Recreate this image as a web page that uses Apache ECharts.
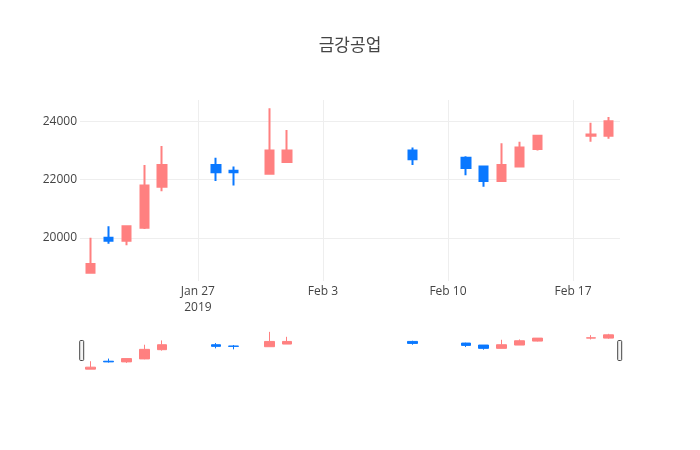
<!DOCTYPE html>
<html>
<head>
<meta charset="utf-8">
<script src="https://cdn.jsdelivr.net/npm/echarts@6/dist/echarts.min.js"></script>
<style>html,body{margin:0;padding:0;background:#fff;}#chart{width:700px;height:450px;}</style>
</head>
<body>
<div id="chart"></div>
<script>
const titleText = '금강공업';
const dates = ['2019-01-21','2019-01-22','2019-01-23','2019-01-24','2019-01-25','2019-01-28','2019-01-29','2019-01-31','2019-02-01','2019-02-08','2019-02-11','2019-02-12','2019-02-13','2019-02-14','2019-02-15','2019-02-18','2019-02-19'];
const openV  = [18800,20000,19900,20350,21750,22500,22300,22200,22600,23000,22750,22450,21950,22450,23050,23500,23500];
const closeV = [19100,19900,20400,21800,22500,22250,22250,23000,23000,22700,22400,21950,22500,23100,23500,23550,24000];
const lowV   = [18800,19800,19750,20300,21600,21950,21800,22200,22600,22500,22150,21750,21950,22450,23000,23300,23400];
const highV  = [20000,20400,20400,22500,23150,22750,22450,24450,23700,23100,22800,22450,23250,23300,23500,23950,24150];
const xTickDates = ['2019-01-27','2019-02-03','2019-02-10','2019-02-17'];
const yTicks = [20000,22000,24000];

const MONTHS = ['Jan','Feb','Mar','Apr','May','Jun','Jul','Aug','Sep','Oct','Nov','Dec'];
const DAY = 86400000;
const ref = Date.UTC(2019,0,27);
function dayOf(s){ const p=s.split('-'); return Math.round((Date.UTC(+p[0],+p[1]-1,+p[2])-ref)/DAY); }
const xTicks = xTickDates.map(dayOf);
const data = dates.map((d,i)=>[dayOf(d), openV[i], closeV[i], lowV[i], highV[i]]);
const xMin = -6.6, xMax = 23.63, yMin = 18520, yMax = 24730;
const UP = '#ff8080', DOWN = '#0a78ff';
function fmtX(v){
  const dt = new Date(ref + Math.round(v)*DAY);
  const s = MONTHS[dt.getUTCMonth()] + ' ' + dt.getUTCDate();
  return Math.round(v) === xTicks[0] ? s + '\n' + dt.getUTCFullYear() : s;
}
const font = '"Open Sans", "Noto Sans", sans-serif';
const chart = echarts.init(document.getElementById('chart'), null, {renderer:'canvas'});
chart.setOption({
  animation:false,
  backgroundColor:'#fff',
  title:{text:titleText,left:'center',top:31,textStyle:{fontFamily:'"Noto Sans CJK KR", sans-serif',fontSize:17,fontWeight:'normal',color:'#444'}},
  grid:[
    {left:80,right:80,top:100,height:181},
    {left:80,right:80,top:330,height:41}
  ],
  xAxis:[
    {type:'value',gridIndex:0,min:xMin,max:xMax,
     axisLine:{show:false},
     axisTick:{show:false,customValues:xTicks},
     splitLine:{show:true,lineStyle:{color:'#eeeeee',width:1}},
     axisLabel:{customValues:xTicks,formatter:fmtX,margin:3,color:'#444',fontSize:12,fontFamily:font,lineHeight:16}},
    {type:'value',gridIndex:1,min:xMin,max:xMax,show:false,splitLine:{show:false}}
  ],
  yAxis:[
    {type:'value',gridIndex:0,min:yMin,max:yMax,
     axisLine:{show:false},
     axisTick:{show:false,customValues:yTicks},
     splitLine:{show:true,lineStyle:{color:'#eeeeee',width:1}},
     axisLabel:{customValues:yTicks,formatter:v=>String(v),margin:3,color:'#444',fontSize:12,fontFamily:font}},
    {type:'value',gridIndex:1,min:yMin,max:yMax,show:false,splitLine:{show:false}}
  ],
  dataZoom:[{
    type:'slider',xAxisIndex:[0,1],filterMode:'none',start:0,end:100,
    left:80,right:80,top:330,height:41,
    showDataShadow:false,showDetail:false,brushSelect:false,moveHandleSize:0,
    backgroundColor:'rgba(0,0,0,0)',borderColor:'rgba(0,0,0,0)',fillerColor:'rgba(0,0,0,0)',
    handleIcon:'path://M1,0h2a1,1 0 0 1 1,1v18a1,1 0 0 1 -1,1h-2a1,1 0 0 1 -1,-1v-18a1,1 0 0 1 1,-1z',
    handleSize:20,
    handleStyle:{color:'#f4f4f4',borderColor:'#444',borderWidth:1},
    emphasis:{handleStyle:{color:'#f4f4f4',borderColor:'#444',borderWidth:1}}
  }],
  series:[
    {type:'candlestick',xAxisIndex:0,yAxisIndex:0,data:data,encode:{x:0,y:[1,2,3,4]},barWidth:9,
     itemStyle:{color:UP,color0:DOWN,borderColor:UP,borderColor0:DOWN,borderWidth:2}},
    {type:'candlestick',xAxisIndex:1,yAxisIndex:1,data:data,encode:{x:0,y:[1,2,3,4]},barWidth:10,
     itemStyle:{color:UP,color0:DOWN,borderColor:UP,borderColor0:DOWN,borderWidth:1}}
  ]
});
</script>
</body>
</html>
